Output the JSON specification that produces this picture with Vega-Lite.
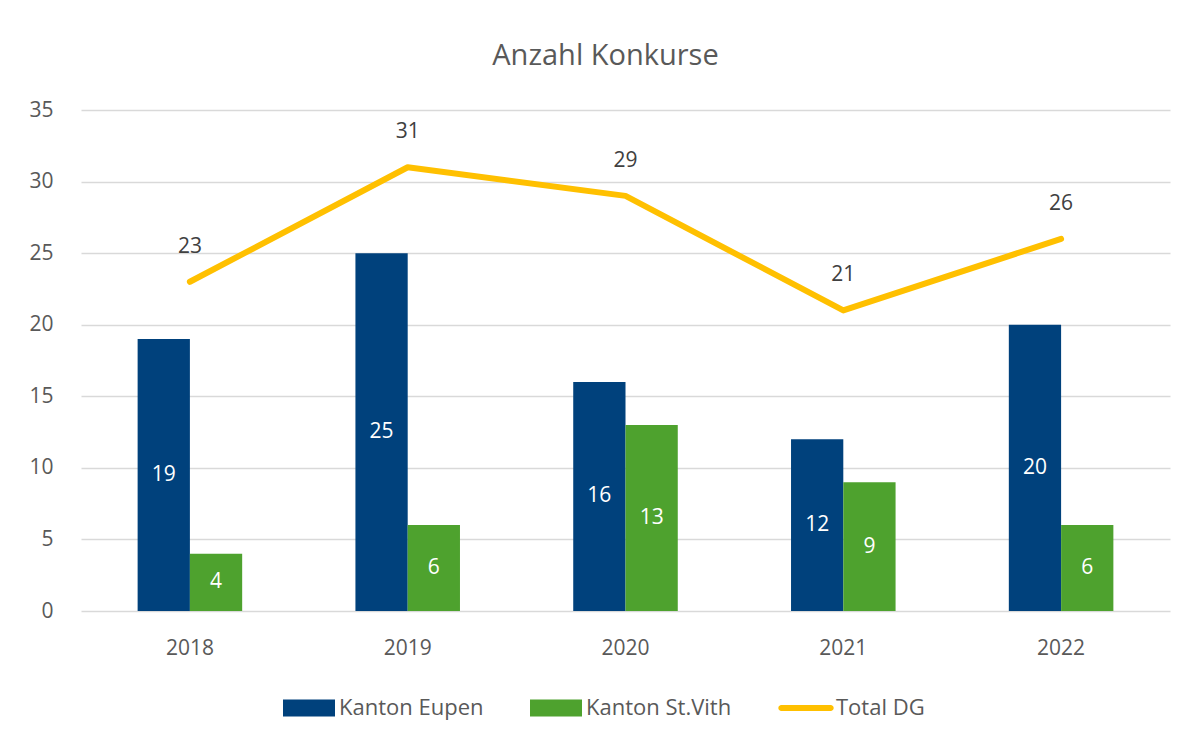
{
  "$schema": "https://vega.github.io/schema/vega-lite/v6.json",
  "width": 1089,
  "height": 501,
  "autosize": "none",
  "padding": {"left": 81, "top": 110, "right": 19, "bottom": 131},
  "background": "white",
  "config": {
    "view": {"stroke": null},
    "font": "Open Sans"
  },
  "title": {
    "text": "Anzahl Konkurse",
    "fontSize": 29,
    "fontWeight": "normal",
    "color": "#595959",
    "baseline": "alphabetic",
    "offset": 5,
    "dx": -20
  },
  "data": {
    "values": [
      {"year": "2018", "series": "Kanton Eupen", "value": 19},
      {"year": "2019", "series": "Kanton Eupen", "value": 25},
      {"year": "2020", "series": "Kanton Eupen", "value": 16},
      {"year": "2021", "series": "Kanton Eupen", "value": 12},
      {"year": "2022", "series": "Kanton Eupen", "value": 20},
      {"year": "2018", "series": "Kanton St.Vith", "value": 4},
      {"year": "2019", "series": "Kanton St.Vith", "value": 6},
      {"year": "2020", "series": "Kanton St.Vith", "value": 13},
      {"year": "2021", "series": "Kanton St.Vith", "value": 9},
      {"year": "2022", "series": "Kanton St.Vith", "value": 6},
      {"year": "2018", "series": "Total DG", "value": 23},
      {"year": "2019", "series": "Total DG", "value": 31},
      {"year": "2020", "series": "Total DG", "value": 29},
      {"year": "2021", "series": "Total DG", "value": 21},
      {"year": "2022", "series": "Total DG", "value": 26}
    ]
  },
  "encoding": {
    "x": {
      "field": "year",
      "type": "nominal",
      "scale": {"paddingInner": 0.52, "paddingOuter": 0.26},
      "axis": {
        "title": null,
        "labelAngle": 0,
        "domain": false,
        "ticks": false,
        "labelPadding": 26,
        "labelFontSize": 21,
        "labelColor": "#595959"
      }
    }
  },
  "layer": [
    {
      "transform": [{"filter": "datum.series !== 'Total DG'"}],
      "mark": {"type": "bar"},
      "encoding": {
        "xOffset": {"field": "series", "sort": ["Kanton Eupen", "Kanton St.Vith"]},
        "y": {
          "field": "value",
          "type": "quantitative",
          "scale": {"domain": [0, 35]},
          "axis": {
            "title": null,
            "values": [0, 5, 10, 15, 20, 25, 30, 35],
            "grid": true,
            "gridColor": "#D9D9D9",
            "gridWidth": 1.5,
            "domain": false,
            "ticks": false,
            "labelPadding": 28,
            "labelFontSize": 21,
            "labelColor": "#595959"
          }
        },
        "color": {
          "field": "series",
          "type": "nominal",
          "scale": {
            "domain": ["Kanton Eupen", "Kanton St.Vith", "Total DG"],
            "range": ["#00417C", "#4EA22E", "#FFC000"]
          },
          "legend": {
            "orient": "none",
            "legendX": 202,
            "legendY": 572,
            "direction": "horizontal",
            "title": null,
            "labelFontSize": 22,
            "labelColor": "#595959",
            "symbolSize": 2704,
            "labelOffset": 4,
            "columnPadding": 46,
            "encode": {
              "symbols": {
                "update": {
                  "shape": {"signal": "datum.value === 'Total DG' ? 'M-0.95,-0.115H0.95A0.115,0.115,0,0,1,0.95,0.115H-0.95A0.115,0.115,0,0,1,-0.95,-0.115Z' : 'M-1,-0.327H1V0.327H-1Z'"},
                  "fill": {"scale": "color", "field": "value"},
                  "strokeWidth": {"value": 0}
                }
              }
            }
          }
        }
      }
    },
    {
      "transform": [{"filter": "datum.series !== 'Total DG'"}],
      "mark": {"type": "text", "color": "white", "fontSize": 21, "baseline": "middle"},
      "encoding": {
        "xOffset": {"field": "series", "sort": ["Kanton Eupen", "Kanton St.Vith"]},
        "y": {"value": {"expr": "scale('y', datum.value / 2)"}},
        "text": {"field": "value", "type": "quantitative"}
      }
    },
    {
      "transform": [{"filter": "datum.series === 'Total DG'"}],
      "mark": {"type": "line", "strokeWidth": 6, "strokeCap": "round", "strokeJoin": "round"},
      "encoding": {
        "y": {"field": "value", "type": "quantitative"},
        "color": {"field": "series", "type": "nominal"}
      }
    },
    {
      "transform": [{"filter": "datum.series === 'Total DG'"}],
      "mark": {"type": "text", "color": "#404040", "fontSize": 21, "baseline": "middle", "dy": -35},
      "encoding": {
        "y": {"field": "value", "type": "quantitative"},
        "text": {"field": "value", "type": "quantitative"}
      }
    }
  ]
}
